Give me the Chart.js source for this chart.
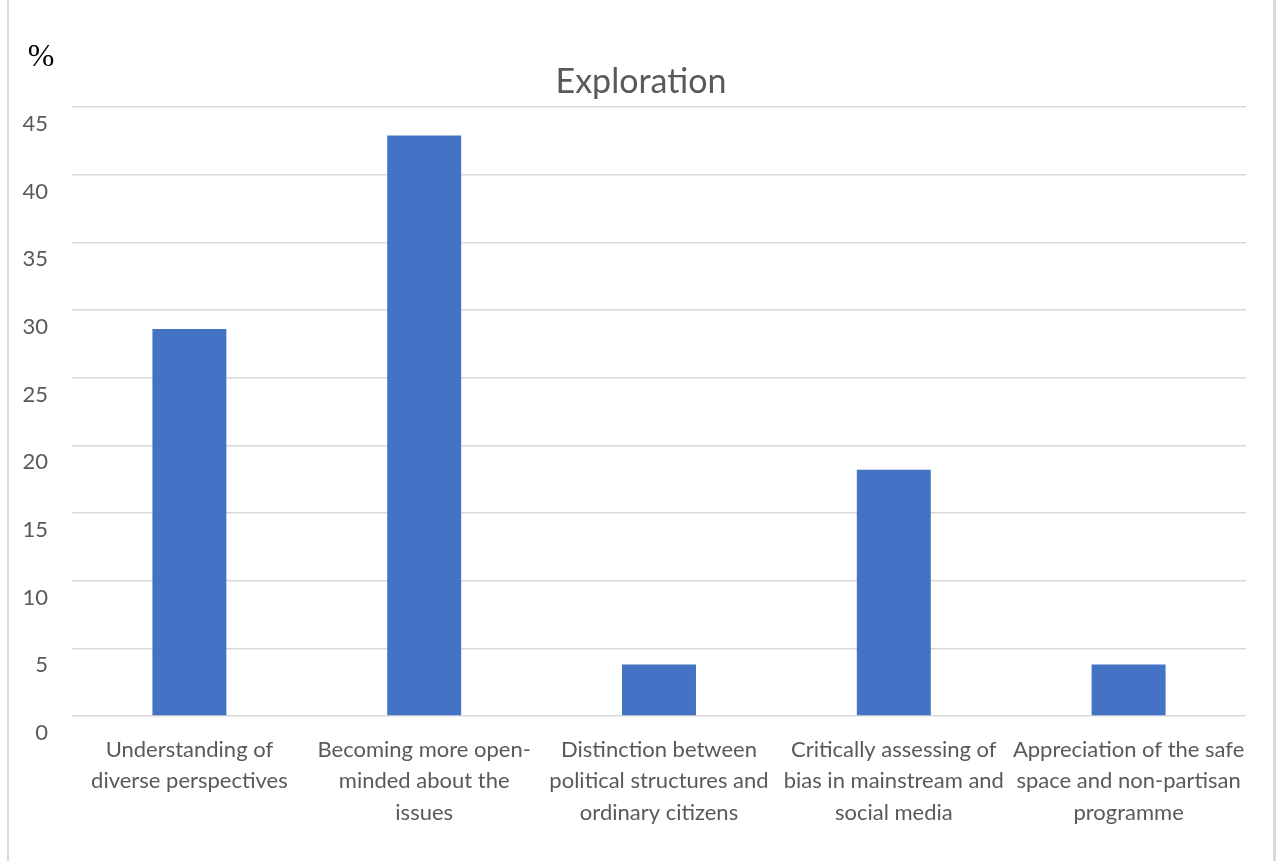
<!DOCTYPE html>
<html lang="en">
<head>
  <meta charset="UTF-8">
  <title>Exploration</title>
  <script src="https://cdn.jsdelivr.net/npm/chart.js"></script>
  <style>
    html, body { margin: 0; padding: 0; background: #fff; }
    #wrap { position: relative; width: 1277px; height: 861px; }
  </style>
</head>
<body>
  <div id="wrap"><canvas id="chart" width="1277" height="861"></canvas></div>
  <script>
    const categories = [
      ["Understanding of", "diverse perspectives"],
      ["Becoming more open-", "minded about the", "issues"],
      ["Distinction between", "political structures and", "ordinary citizens"],
      ["Critically assessing of", "bias in mainstream and", "social media"],
      ["Appreciation of the safe", "space and non-partisan", "programme"]
    ];
    const percentages = [28.6, 42.9, 3.8, 18.2, 3.8];
    const yTicks = [0, 5, 10, 15, 20, 25, 30, 35, 40, 45];
    const chartTitle = 'Exploration';
    const unitLabel = '%';

    const grey = '#595959';

    // frame lines, title (centred on the whole frame) and "%" unit label
    const decor = {
      id: 'decor',
      afterDraw(chart) {
        const ctx = chart.ctx;
        ctx.save();
        ctx.fillStyle = '#d9d9d9';
        ctx.fillRect(7, 0, 2, chart.height);
        ctx.fillRect(1273, 0, 3, chart.height);
        ctx.textAlign = 'center';
        ctx.textBaseline = 'middle';
        ctx.fillStyle = grey;
        ctx.font = '34px Lato';
        ctx.fillText(chartTitle, 641, 82);
        ctx.fillStyle = '#000';
        ctx.font = '32px "Liberation Serif", serif';
        ctx.fillText(unitLabel, 41, 58);
        ctx.restore();
      }
    };

    new Chart(document.getElementById('chart'), {
      type: 'bar',
      data: {
        labels: categories,
        datasets: [{
          data: percentages,
          backgroundColor: '#4472C4',
          barPercentage: 0.315,
          categoryPercentage: 1
        }]
      },
      options: {
        responsive: false,
        animation: false,
        layout: { padding: { left: 0, right: 31, top: 107, bottom: 0 } },
        plugins: {
          legend: { display: false },
          tooltip: { enabled: false },
          title: { display: false }
        },
        scales: {
          x: {
            grid: { display: false, drawTicks: false },
            border: { display: false },
            ticks: {
              color: grey,
              font: { family: 'Lato', size: 22, lineHeight: 1.432 },
              padding: 18,
              maxRotation: 0,
              autoSkip: false
            },
            afterFit(axis) { axis.height = 145; }
          },
          y: {
            min: 0,
            max: 45,
            afterBuildTicks(axis) { axis.ticks = yTicks.map(v => ({ value: v })); },
            grid: { color: '#d9d9d9', lineWidth: 1.5, drawTicks: false },
            border: { display: false },
            ticks: {
              color: grey,
              font: { family: 'Lato', size: 22 },
              padding: 24,
              labelOffset: 17
            },
            afterFit(axis) { axis.width = 72; }
          }
        }
      },
      plugins: [decor]
    });
  </script>
</body>
</html>
